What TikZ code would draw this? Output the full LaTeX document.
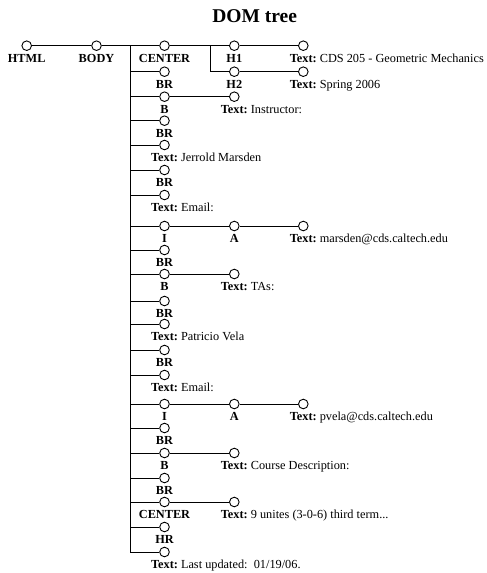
\documentclass[tikz,border=0pt]{standalone}
\usepackage{fontspec}
\setmainfont{Liberation Serif}
\newcommand\mkel[4]{\node[dot] (#1) at (#2,#3) {}; \node[tag] (#1-l) at (#2,#3+16.6) {#4};}
\newcommand\mktext[4]{\node[dot] (#1) at (#2,#3) {}; \node[tag] (#1-l) at (#2,#3+16.6) {Text:\rlap{\mdseries\ #4}};}
\begin{document}
\begin{tikzpicture}[x=1pt,y=-1pt,
  dot/.style={circle,draw,minimum size=9.6pt,inner sep=0pt,line width=0.9pt},
  tag/.style={font=\bfseries\fontsize{12.3}{14}\selectfont,anchor=base,inner sep=0pt},
  conn/.style={line width=0.9pt}]
\useasboundingbox (0,0) rectangle (487,573);
\node[font=\bfseries\fontsize{19.5}{22}\selectfont,anchor=base,inner sep=0pt] (title) at (254.7,22.5) {DOM tree};
% row 0
\mkel{html}{26.7}{45.7}{HTML}
\mkel{body}{96.5}{45.7}{BODY}
\mkel{center1}{164.5}{45.7}{CENTER}
\mkel{h1}{234.3}{45.7}{H1}
\mktext{tcds}{303.3}{45.7}{CDS 205 - Geometric Mechanics}
% row 1
\mkel{br1}{164.5}{71.7}{BR}
\mkel{h2}{234.3}{71.7}{H2}
\mktext{tspring}{303.3}{71.7}{Spring 2006}
% row 2
\mkel{b1}{164.5}{96.7}{B}
\mktext{tinstr}{234.3}{96.7}{Instructor:}
\mkel{br2}{164.5}{120.7}{BR}
\mktext{tjm}{164.5}{145}{Jerrold Marsden}
\mkel{br3}{164.5}{170}{BR}
\mktext{temail1}{164.5}{195}{Email:}
\mkel{i1}{164.5}{226}{I}
\mkel{a1}{234.3}{226}{A}
\mktext{tmars}{303.3}{226}{marsden@cds.caltech.edu}
\mkel{br4}{164.5}{250}{BR}
\mkel{b2}{164.5}{274}{B}
\mktext{ttas}{234.3}{274}{TAs:}
\mkel{br5}{164.5}{301}{BR}
\mktext{tpv}{164.5}{324}{Patricio Vela}
\mkel{br6}{164.5}{350}{BR}
\mktext{temail2}{164.5}{375}{Email:}
\mkel{i2}{164.5}{404}{I}
\mkel{a2}{234.3}{404}{A}
\mktext{tpvela}{303.3}{404}{pvela@cds.caltech.edu}
\mkel{br7}{164.5}{428}{BR}
\mkel{b3}{164.5}{453}{B}
\mktext{tcourse}{234.3}{453}{Course Description:}
\mkel{br8}{164.5}{478}{BR}
\mkel{center2}{164.5}{502}{CENTER}
\mktext{tunits}{234.3}{502}{9 unites (3-0-6) third term...}
\mkel{hr}{164.5}{527}{HR}
\mktext{tlast}{164.5}{552}{Last updated:\ \ 01/19/06.}
% junctions
\coordinate (jb) at (130,45.7);
\coordinate (jc) at (210,45.7);
% connectors
\draw[conn] (html) -- (body);
\draw[conn] (body) -- (center1);
\draw[conn] (center1) -- (h1);
\draw[conn] (h1) -- (tcds);
\draw[conn] (jc) |- (h2.west);
\draw[conn] (h2) -- (tspring);
\foreach \c in {br1,b1,br2,tjm,br3,temail1,i1,br4,b2,br5,tpv,br6,temail2,i2,br7,b3,br8,center2,hr,tlast}
  \draw[conn] (jb) |- (\c.west);
\draw[conn] (b1) -- (tinstr);
\draw[conn] (i1) -- (a1);
\draw[conn] (a1) -- (tmars);
\draw[conn] (b2) -- (ttas);
\draw[conn] (i2) -- (a2);
\draw[conn] (a2) -- (tpvela);
\draw[conn] (b3) -- (tcourse);
\draw[conn] (center2) -- (tunits);
\end{tikzpicture}
\end{document}
